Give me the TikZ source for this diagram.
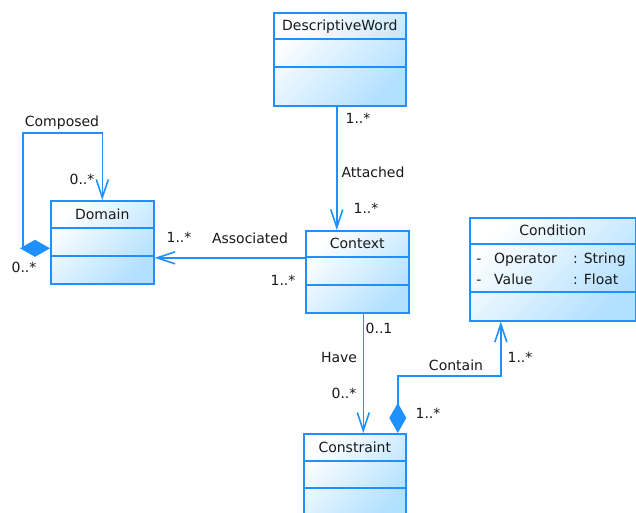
\documentclass[tikz,border=0pt]{standalone}
\usepackage{fontspec}
\setmainfont{DejaVu Sans}
\usetikzlibrary{arrows.meta, calc}
\definecolor{umlblue}{RGB}{30,144,255}
\definecolor{umlfill}{RGB}{178,224,255}

\tikzset{
    classbox/.style={draw=umlblue, line width=1.6pt, top color=white, bottom color=umlfill, shading angle=45, inner sep=0pt, anchor=north west},
    divider/.style={draw=umlblue, line width=1.6pt},
    txt/.style={font=\fontsize{14}{16}\selectfont, text=black!90, inner sep=0pt, text height=10pt, text depth=0pt},
    link/.style={draw=umlblue, line width=1.6pt, -{Straight Barb[length=18pt, width=12pt]}},
    compose/.style={link, {Diamond[length=30pt, width=17pt]}-{Straight Barb[length=18pt, width=12pt]}}
}

% name, left, top, width, height, divider 1, divider 2, title
\newcommand{\umlclass}[8]{
    \node[classbox, minimum width=#4pt, minimum height=#5pt] (#1) at (#2,#3) {};
    \draw[divider] ($(#1.north west)+(0,#6)$) -- ($(#1.north east)+(0,#6)$);
    \draw[divider] ($(#1.north west)+(0,#7)$) -- ($(#1.north east)+(0,#7)$);
    \node[txt] (#1-title) at ($(#1.north)+(0,#6/2)$) {#8};
}

\begin{document}
\begin{tikzpicture}[x=1pt, y=-1pt]
    \fill[white] (0,0) rectangle (636,512);
    \path[use as bounding box, clip] (0,0) rectangle (636,512);

    \umlclass{word}{273}{12}{132}{93}{27}{55}{DescriptiveWord}
    \umlclass{domain}{50}{200}{103}{83}{28}{56}{Domain}
    \umlclass{context}{305}{230}{103}{82}{27}{55}{Context}
    \umlclass{condition}{469}{217}{166}{103}{27}{75}{Condition}
    \umlclass{constraint}{303}{433}{102}{83}{28}{55}{Constraint}

    \node[txt] (op-vis) at (479,258) {-};
    \node[txt, anchor=west] (op-name) at (494,258) {Operator};
    \node[txt, anchor=west] (op-type) at (573,258) {: String};
    \node[txt] (val-vis) at (479,279) {-};
    \node[txt, anchor=west] (val-name) at (494,279) {Value};
    \node[txt, anchor=west] (val-type) at (573,279) {: Float};

    % connectors
    \draw[link] ([xshift=-3pt]word.south) -- ([xshift=-3pt]word.south |- context.north);
    \draw[link] ([yshift=14pt]context.west) -- ([yshift=14pt]context.west -| domain.east);
    \draw[link] ([xshift=6pt]context.south) -- ([xshift=6pt]context.south |- constraint.north);
    \draw[compose] ([yshift=-6pt]domain.west) -- ++(-27,0) |- ([yshift=67pt]domain.north) -- (domain.north);
    \draw[compose] ([xshift=43pt]constraint.north) -- ++(0,-57) -| ([xshift=-52pt]condition.south);

    % labels
    \node[txt] (composed) at (62,121) {Composed};
    \node[txt] (composed-to) at (82,179) {0..*};
    \node[txt] (composed-from) at (24,267) {0..*};
    \node[txt] (assoc-to) at (179,237) {1..*};
    \node[txt] (associated) at (250,238) {Associated};
    \node[txt] (assoc-from) at (283,280) {1..*};
    \node[txt] (attach-from) at (358,118) {1..*};
    \node[txt] (attached) at (373,172) {Attached};
    \node[txt] (attach-to) at (366,208) {1..*};
    \node[txt] (have-from) at (379,328) {0..1};
    \node[txt] (have) at (339,357) {Have};
    \node[txt] (have-to) at (344,393) {0..*};
    \node[txt] (contain) at (456,365) {Contain};
    \node[txt] (contain-to) at (520,357) {1..*};
    \node[txt] (contain-from) at (428,413) {1..*};
\end{tikzpicture}
\end{document}
